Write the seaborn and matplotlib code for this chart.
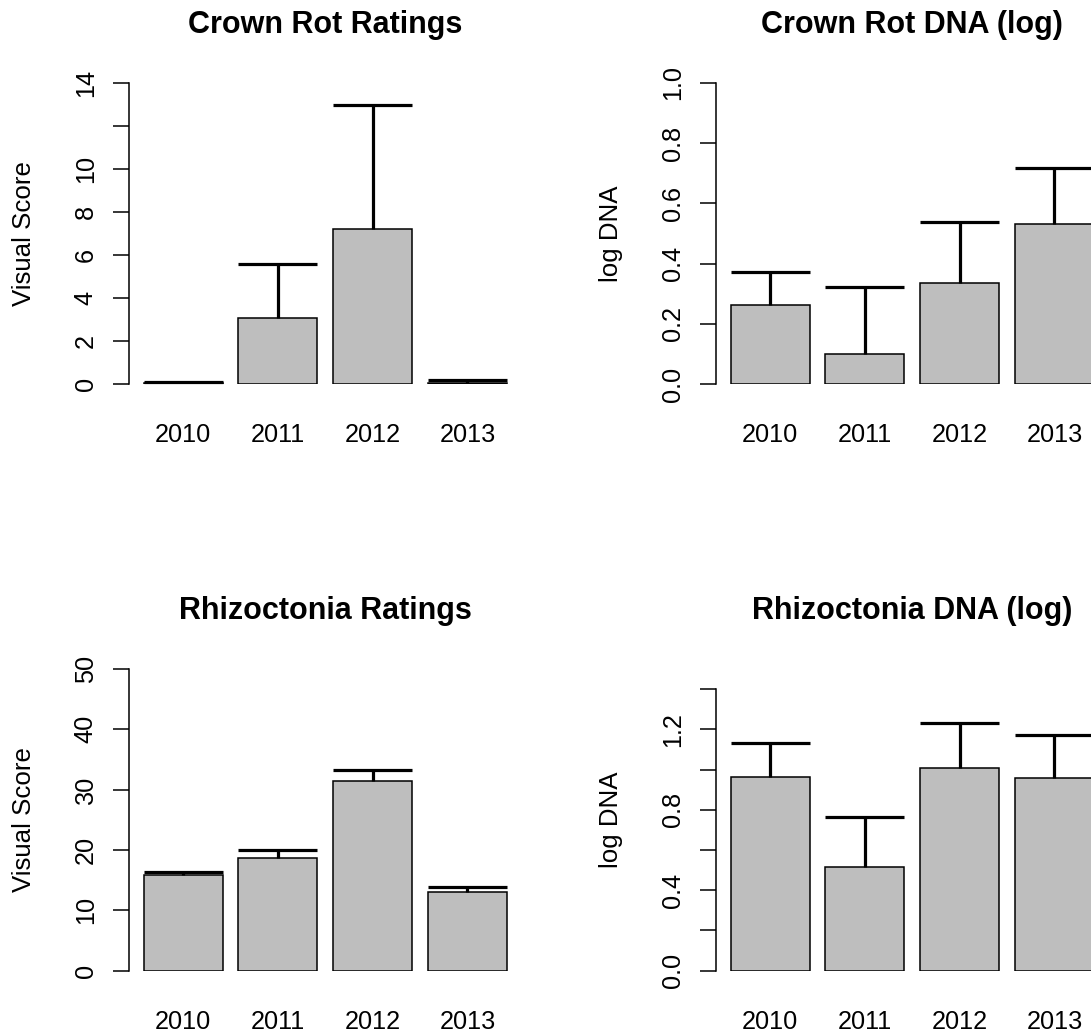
import numpy as np
import pandas as pd
import matplotlib
matplotlib.use("Agg")
import matplotlib.pyplot as plt
import seaborn as sns

sns.set_style("white")
plt.rcParams["font.family"] = ["Liberation Sans", "DejaVu Sans"]
plt.rcParams["text.color"] = "black"
plt.rcParams["axes.labelcolor"] = "black"
plt.rcParams["xtick.color"] = "black"
plt.rcParams["ytick.color"] = "black"
plt.rcParams["axes.edgecolor"] = "black"

# -------------------------------
# Data
# -------------------------------
years = ["2010", "2011", "2012", "2013"]

crown_score = [0.05, 3.05, 7.2, 0.06]
crown_score_upper = [0.11, 5.6, 13.0, 0.2]

crown_dna = [0.261, 0.10, 0.337, 0.532]
crown_dna_upper = [0.373, 0.323, 0.539, 0.719]

rhizo_score = [15.9, 18.7, 31.5, 13.0]
rhizo_score_upper = [16.4, 20.0, 33.3, 13.9]

rhizo_dna = [0.962, 0.517, 1.009, 0.956]
rhizo_dna_upper = [1.134, 0.763, 1.233, 1.172]

crown_score_ticks = [0, 2, 4, 6, 8, 10, 12, 14]
crown_score_labels = ["0", "2", "4", "6", "8", "10", "", "14"]
crown_dna_ticks = [0.0, 0.2, 0.4, 0.6, 0.8, 1.0]
crown_dna_labels = ["0.0", "0.2", "0.4", "0.6", "0.8", "1.0"]
rhizo_score_ticks = [0, 10, 20, 30, 40, 50]
rhizo_score_labels = ["0", "10", "20", "30", "40", "50"]
rhizo_dna_ticks = [0.0, 0.2, 0.4, 0.6, 0.8, 1.0, 1.2, 1.4]
rhizo_dna_labels = ["0.0", "", "0.4", "", "0.8", "", "1.2", ""]

W, H = 1091, 1035
fig = plt.figure(figsize=(W / 100, H / 100), dpi=100)


def add_panel(left, right, bottom, top):
    return fig.add_axes([left / W, 1 - bottom / H, (right - left) / W, (bottom - top) / H])


BAR_W = 1 / 1.2


def panel(ax, values, upper, title, ylabel, ytop, ticks, ticklabels):
    df = pd.DataFrame({"year": years, "value": values})
    sns.barplot(data=df, x="year", y="value", color="#BEBEBE", saturation=1,
                width=BAR_W, edgecolor="black", linewidth=1.1, ax=ax)

    # error bars: stem from bar top to upper value, cap on top only
    pos = np.arange(len(years))
    ax.vlines(pos, values, upper, color="black", linewidth=2.3, clip_on=False)
    ax.hlines(upper, pos - BAR_W / 2, pos + BAR_W / 2, color="black",
              linewidth=2.3, clip_on=False)

    ax.set_xlim(-0.57, 3.57)
    ax.set_ylim(0, ytop)
    ax.set_yticks(ticks)
    ax.set_yticklabels(ticklabels, rotation=90, va="center")

    for side in ["top", "right", "bottom"]:
        ax.spines[side].set_visible(False)
    ax.spines["left"].set_bounds(ticks[0], ticks[-1])
    ax.spines["left"].set_linewidth(1.1)

    ax.tick_params(axis="y", length=11.5, width=1.1, labelsize=18.2, pad=11, left=True)
    ax.tick_params(axis="x", length=0, labelsize=18.2, pad=28)

    ax.set_xlabel("")
    ax.set_ylabel(ylabel, fontsize=18.6)
    ax.yaxis.set_label_coords(-0.237, 0.5)
    ax.set_title(title, fontsize=22, fontweight="bold", pad=36)
    ax.patch.set_visible(False)


ax1 = add_panel(129, 521.5, 384, 83)
panel(ax1, crown_score, crown_score_upper, "Crown Rot Ratings", "Visual Score",
      14, crown_score_ticks, crown_score_labels)

ax2 = add_panel(716, 1108.5, 384, 83)
panel(ax2, crown_dna, crown_dna_upper, "Crown Rot DNA (log)", "log DNA",
      1.0, crown_dna_ticks, crown_dna_labels)

ax3 = add_panel(129, 521.5, 970.7, 669)
panel(ax3, rhizo_score, rhizo_score_upper, "Rhizoctonia Ratings", "Visual Score",
      50, rhizo_score_ticks, rhizo_score_labels)

ax4 = add_panel(716, 1108.5, 970.7, 669)
panel(ax4, rhizo_dna, rhizo_dna_upper, "Rhizoctonia DNA (log)", "log DNA",
      1.5, rhizo_dna_ticks, rhizo_dna_labels)

fig.savefig("out.png", dpi=100, facecolor="white")
